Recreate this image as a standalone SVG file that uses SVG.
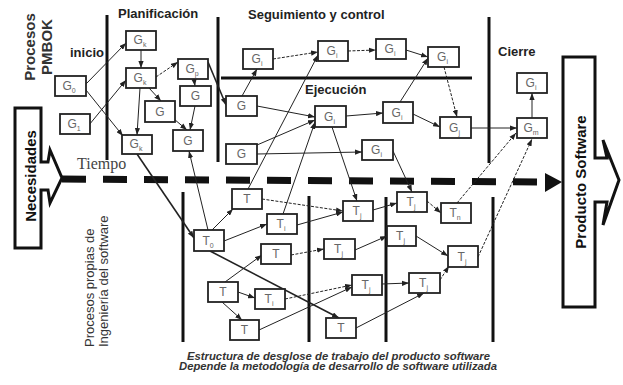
<svg xmlns="http://www.w3.org/2000/svg" width="623" height="385" viewBox="0 0 623 385">
  <defs>
    <marker id="ah" viewBox="0 0 8 6" refX="8" refY="3" markerWidth="7" markerHeight="5.5" markerUnits="userSpaceOnUse" orient="auto">
      <path d="M0,0 L8,3 L0,6 z" fill="#222"/>
    </marker>
    <style>
      .node rect { fill: #fff; stroke: #222; stroke-width: 1.8; }
      .lbl { font-family: "Liberation Sans", Arial, sans-serif; font-size: 12px; fill: #666; text-anchor: middle; }
      .sub { font-size: 7px; }
      .conn line { stroke: #222; stroke-width: 1; marker-end: url(#ah); }
      .conn line.d { stroke-dasharray: 3 1.5; }
      .conn line.w { stroke-width: 1.6; }
      .bar { stroke: #111; stroke-width: 3; fill: none; }
      .hd { font-family: "Liberation Sans", Arial, sans-serif; font-weight: bold; font-size: 13px; fill: #222; }
      .side { font-family: "Liberation Sans", Arial, sans-serif; font-size: 13px; fill: #333; }
      .big { font-family: "Liberation Sans", Arial, sans-serif; font-weight: bold; font-size: 15px; fill: #111; text-anchor: middle; }
      .cap { font-family: "Liberation Sans", Arial, sans-serif; font-weight: bold; font-style: italic; font-size: 10px; fill: #333; text-anchor: middle; }
      .arrow { fill: #fff; stroke: #111; stroke-width: 3; stroke-linejoin: miter; }
    </style>
  </defs>

  <rect width="623" height="385" fill="#fff"/>

  <!-- phase separators -->
  <g id="separators">
    <line class="bar" x1="107" y1="15" x2="107" y2="160"/>
    <line class="bar" x1="218" y1="17" x2="218" y2="162"/>
    <line class="bar" x1="489" y1="17" x2="489" y2="163"/>
    <line class="bar" x1="221" y1="78" x2="472" y2="78"/>
    <line class="bar" x1="183" y1="192" x2="183" y2="342"/>
    <line class="bar" x1="309" y1="196" x2="309" y2="342"/>
    <line class="bar" x1="386" y1="197" x2="386" y2="342"/>
    <line class="bar" x1="493" y1="197" x2="493" y2="342"/>
  </g>

  <!-- headings -->
  <g id="headings">
    <text class="big" font-size="15" transform="translate(35,47) rotate(-90)" style="fill:#333">Procesos</text>
    <text class="big" transform="translate(52,47) rotate(-90)" style="fill:#333">PMBOK</text>
    <text class="hd" x="70" y="57">inicio</text>
    <text class="hd" x="118" y="18">Planificación</text>
    <text class="hd" x="248" y="19" font-size="12.5">Seguimiento y control</text>
    <text class="hd" x="305" y="94">Ejecución</text>
    <text class="hd" x="498" y="56">Cierre</text>
    <text class="side" transform="translate(94,347) rotate(-90)">Procesos propias de</text>
    <text class="side" transform="translate(108,347) rotate(-90)">Ingeniería del software</text>
  </g>

  <!-- input and output blocks -->
  <g id="necesidades">
    <path class="arrow" d="M15,108 H41 V162 H48 L50,150 L62,178 L50,203 L48,190 H41 V248 H15 Z"/>
    <text class="big" transform="translate(36,176) rotate(-90)">Necesidades</text>
  </g>
  <g id="producto">
    <path class="arrow" d="M563,57 H595 V158 H607 L603,140 L619,180 L603,225 L607,202 H595 V307 H563 Z"/>
    <text class="big" transform="translate(586,182) rotate(-90)">Producto Software</text>
  </g>

  <!-- time axis -->
  <g id="tiempo">
    <line x1="62" y1="179" x2="538" y2="182" stroke="#111" stroke-width="7" stroke-dasharray="24 17"/>
    <path d="M545,173 L562,182 L545,192 Z" fill="#111"/>
    <text x="77" y="169" font-family="'Liberation Serif', 'Times New Roman', serif" font-size="16" fill="#444">Tiempo</text>
  </g>

  <!-- connectors -->
  <g id="connectors" class="conn">
    <line x1="86" y1="84" x2="126" y2="43"/>
    <line x1="86" y1="90" x2="123" y2="136"/>
    <line x1="89" y1="125" x2="126" y2="80"/>
    <line x1="141" y1="50" x2="141" y2="68"/>
    <line class="d" x1="156" y1="77" x2="178" y2="62"/>
    <line x1="149" y1="88" x2="161" y2="101"/>
    <line x1="140" y1="88" x2="137" y2="135"/>
    <line x1="194" y1="79" x2="195" y2="86"/>
    <line x1="195" y1="106" x2="190" y2="130"/>
    <line x1="174" y1="119" x2="187" y2="130"/>
    <line class="w" x1="208" y1="62" x2="226" y2="105"/>
    <line class="w" x1="137" y1="154" x2="194" y2="238"/>
    <line x1="208" y1="230" x2="189" y2="151"/>
    <line x1="242" y1="96" x2="257" y2="69"/>
    <line class="d" x1="273" y1="59" x2="318" y2="52"/>
    <line class="d" x1="348" y1="51" x2="376" y2="50"/>
    <line x1="406" y1="50" x2="428" y2="57"/>
    <line x1="257" y1="106" x2="315" y2="117"/>
    <line x1="257" y1="145" x2="315" y2="120"/>
    <line x1="248" y1="189" x2="318" y2="55"/>
    <line x1="283" y1="214" x2="315" y2="122"/>
    <line x1="332" y1="127" x2="357" y2="201"/>
    <line x1="346" y1="116" x2="383" y2="113"/>
    <line x1="257" y1="154" x2="362" y2="152"/>
    <line x1="400" y1="102" x2="428" y2="58"/>
    <line x1="413" y1="114" x2="440" y2="127"/>
    <line class="d" x1="444" y1="67" x2="457" y2="117"/>
    <line x1="393" y1="151" x2="412" y2="192"/>
    <line x1="471" y1="128" x2="517" y2="128"/>
    <line x1="532" y1="118" x2="532" y2="93"/>
    <line class="d" x1="457" y1="203" x2="516" y2="133"/>
    <line class="d" x1="478" y1="257" x2="532" y2="139"/>
    <line x1="212" y1="230" x2="233" y2="209"/>
    <line x1="224" y1="241" x2="267" y2="224"/>
    <line class="d" x1="262" y1="199" x2="343" y2="211"/>
    <line x1="297" y1="225" x2="343" y2="212"/>
    <line class="w" x1="210" y1="251" x2="339" y2="318"/>
    <line x1="225" y1="282" x2="262" y2="255"/>
    <line x1="238" y1="292" x2="255" y2="298"/>
    <line x1="222" y1="302" x2="242" y2="320"/>
    <line class="d" x1="291" y1="255" x2="324" y2="249"/>
    <line class="d" x1="285" y1="299" x2="352" y2="285"/>
    <line x1="259" y1="330" x2="352" y2="287"/>
    <line x1="355" y1="250" x2="387" y2="236"/>
    <line x1="373" y1="210" x2="397" y2="203"/>
    <line x1="382" y1="284" x2="409" y2="283"/>
    <line x1="356" y1="328" x2="424" y2="293"/>
    <line class="d" x1="427" y1="201" x2="441" y2="213"/>
    <line x1="416" y1="236" x2="448" y2="256"/>
    <line class="d" x1="440" y1="280" x2="449" y2="266"/>
  </g>

  <!-- management process nodes -->
  <g id="g0" class="node"><rect x="55" y="76" width="31" height="20"/><text class="lbl" x="69" y="90">G<tspan class="sub" dy="3">0</tspan></text></g>
  <g id="g1" class="node"><rect x="60" y="114" width="30" height="20"/><text class="lbl" x="74" y="128">G<tspan class="sub" dy="3">1</tspan></text></g>
  <g id="gk1" class="node"><rect x="126" y="31" width="30" height="19"/><text class="lbl" x="140" y="44">G<tspan class="sub" dy="3">k</tspan></text></g>
  <g id="gk2" class="node"><rect x="126" y="68" width="30" height="20"/><text class="lbl" x="140" y="82">G<tspan class="sub" dy="3">k</tspan></text></g>
  <g id="gk3" class="node"><rect x="122" y="135" width="30" height="19"/><text class="lbl" x="136" y="148">G<tspan class="sub" dy="3">k</tspan></text></g>
  <g id="gp" class="node"><rect x="178" y="59" width="30" height="20"/><text class="lbl" x="192" y="73">G<tspan class="sub" dy="3">p</tspan></text></g>
  <g id="ga" class="node"><rect x="180" y="86" width="31" height="20"/><text class="lbl" x="195.5" y="100">G</text></g>
  <g id="gb" class="node"><rect x="145" y="101" width="30" height="21"/><text class="lbl" x="160" y="116">G</text></g>
  <g id="gc" class="node"><rect x="173" y="130" width="30" height="21"/><text class="lbl" x="188" y="145">G</text></g>
  <g id="gi1" class="node"><rect x="243" y="49" width="30" height="20"/><text class="lbl" x="257" y="63">G<tspan class="sub" dy="3">i</tspan></text></g>
  <g id="gi2" class="node"><rect x="318" y="41" width="30" height="20"/><text class="lbl" x="332" y="55">G<tspan class="sub" dy="3">i</tspan></text></g>
  <g id="gi3" class="node"><rect x="376" y="39" width="30" height="20"/><text class="lbl" x="390" y="53">G<tspan class="sub" dy="3">i</tspan></text></g>
  <g id="gd" class="node"><rect x="226" y="96" width="31" height="20"/><text class="lbl" x="241.5" y="110">G</text></g>
  <g id="gi4" class="node"><rect x="315" y="106" width="31" height="21"/><text class="lbl" x="329.5" y="121">G<tspan class="sub" dy="3">i</tspan></text></g>
  <g id="gi5" class="node"><rect x="383" y="102" width="30" height="21"/><text class="lbl" x="397" y="117">G<tspan class="sub" dy="3">i</tspan></text></g>
  <g id="ge" class="node"><rect x="226" y="144" width="31" height="20"/><text class="lbl" x="241.5" y="158">G</text></g>
  <g id="gi6" class="node"><rect x="362" y="140" width="31" height="20"/><text class="lbl" x="376.5" y="154">G<tspan class="sub" dy="3">i</tspan></text></g>
  <g id="gi7" class="node"><rect x="428" y="47" width="31" height="20"/><text class="lbl" x="442.5" y="61">G<tspan class="sub" dy="3">i</tspan></text></g>
  <g id="gj" class="node"><rect x="440" y="117" width="31" height="21"/><text class="lbl" x="454.5" y="132">G<tspan class="sub" dy="3">j</tspan></text></g>
  <g id="gi8" class="node"><rect x="517" y="73" width="30" height="20"/><text class="lbl" x="531" y="87">G<tspan class="sub" dy="3">i</tspan></text></g>
  <g id="gm" class="node"><rect x="517" y="118" width="30" height="20"/><text class="lbl" x="531" y="132">G<tspan class="sub" dy="3">m</tspan></text></g>

  <!-- software engineering nodes -->
  <g id="ta" class="node"><rect x="232" y="189" width="30" height="20"/><text class="lbl" x="247" y="203">T</text></g>
  <g id="tia" class="node"><rect x="267" y="214" width="30" height="20"/><text class="lbl" x="281" y="228">T<tspan class="sub" dy="3">i</tspan></text></g>
  <g id="t0" class="node"><rect x="194" y="230" width="30" height="21"/><text class="lbl" x="208" y="245">T<tspan class="sub" dy="3">0</tspan></text></g>
  <g id="tb" class="node"><rect x="261" y="244" width="30" height="20"/><text class="lbl" x="276" y="258">T</text></g>
  <g id="tc" class="node"><rect x="208" y="282" width="30" height="20"/><text class="lbl" x="223" y="296">T</text></g>
  <g id="tib" class="node"><rect x="255" y="289" width="30" height="20"/><text class="lbl" x="269" y="303">T<tspan class="sub" dy="3">i</tspan></text></g>
  <g id="td" class="node"><rect x="230" y="320" width="29" height="20"/><text class="lbl" x="244.5" y="334">T</text></g>
  <g id="tja" class="node"><rect x="343" y="201" width="30" height="20"/><text class="lbl" x="357" y="215">T<tspan class="sub" dy="3">j</tspan></text></g>
  <g id="tjb" class="node"><rect x="324" y="239" width="31" height="20"/><text class="lbl" x="338.5" y="253">T<tspan class="sub" dy="3">j</tspan></text></g>
  <g id="tjc" class="node"><rect x="352" y="275" width="30" height="20"/><text class="lbl" x="366" y="289">T<tspan class="sub" dy="3">j</tspan></text></g>
  <g id="te" class="node"><rect x="326" y="318" width="30" height="20"/><text class="lbl" x="341" y="332">T</text></g>
  <g id="tjd" class="node"><rect x="397" y="192" width="30" height="20"/><text class="lbl" x="411" y="206">T<tspan class="sub" dy="3">j</tspan></text></g>
  <g id="tje" class="node"><rect x="387" y="226" width="29" height="20"/><text class="lbl" x="400.5" y="240">T<tspan class="sub" dy="3">j</tspan></text></g>
  <g id="tjf" class="node"><rect x="409" y="273" width="31" height="20"/><text class="lbl" x="423.5" y="287">T<tspan class="sub" dy="3">j</tspan></text></g>
  <g id="tn" class="node"><rect x="441" y="203" width="30" height="20"/><text class="lbl" x="455" y="217">T<tspan class="sub" dy="3">n</tspan></text></g>
  <g id="tjg" class="node"><rect x="448" y="246" width="30" height="21"/><text class="lbl" x="462" y="261">T<tspan class="sub" dy="3">j</tspan></text></g>

  <!-- caption -->
  <g id="caption">
    <text class="cap" x="338.5" y="360" textLength="303" lengthAdjust="spacingAndGlyphs">Estructura de desglose de trabajo del producto software</text>
    <text class="cap" x="338" y="370" textLength="318" lengthAdjust="spacingAndGlyphs">Depende la metodología de desarrollo de software utilizada</text>
  </g>
</svg>
